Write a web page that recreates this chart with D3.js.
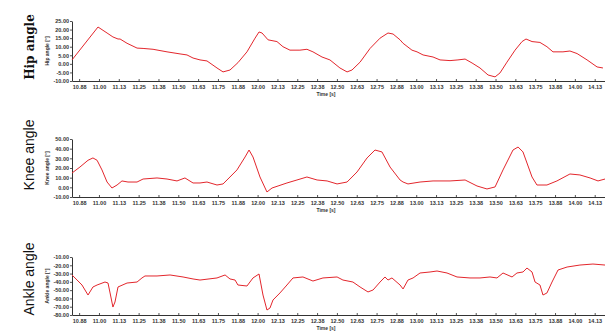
<!DOCTYPE html>
<html>
<head>
<meta charset="utf-8">
<script src="https://cdn.jsdelivr.net/npm/d3@7"></script>
<style>
  body { margin: 0; background: #fff; }
  svg { display: block; }
</style>
</head>
<body>
<div id="chart"></div>
<script>
// Gait angles (time in s, angle in degrees)
const hipTimes = [10.830, 10.994, 11.051, 11.088, 11.120, 11.133, 11.177, 11.240, 11.278, 11.341, 11.429, 11.511, 11.555, 11.593, 11.637,
  11.681, 11.744, 11.782, 11.826, 11.876, 11.933, 11.984, 12.009, 12.028, 12.066, 12.122, 12.160, 12.204, 12.267, 12.311, 12.349, 12.406,
  12.456, 12.519, 12.564, 12.595, 12.646, 12.709, 12.772, 12.822, 12.854, 12.898, 12.917, 12.973, 13.005, 13.043, 13.106, 13.150, 13.213,
  13.263, 13.308, 13.352, 13.402, 13.453, 13.497, 13.528, 13.572, 13.623, 13.667, 13.692, 13.730, 13.780, 13.824, 13.862, 13.925, 13.969,
  14.014, 14.077, 14.140, 14.177];
const hipValues = [2.3, 21.5, 18.0, 15.7, 14.5, 14.5, 12.0, 9.2, 9.0, 8.5, 7.0, 5.8, 5.2, 3.4, 2.3,
  1.7, -2.4, -4.7, -3.6, 0.7, 7.0, 15.0, 18.6, 18.0, 14.0, 13.0, 10.0, 8.0, 8.0, 8.5, 7.0, 4.0,
  2.3, -2.4, -4.7, -3.6, 1.0, 9.0, 15.0, 18.0, 17.4, 14.0, 12.0, 8.0, 7.0, 5.2, 4.0, 2.3, 1.9,
  2.3, 2.8, 0.5, -2.4, -6.5, -7.6, -5.3, 1.0, 8.0, 13.0, 14.5, 13.0, 12.5, 10.0, 7.0, 7.0, 7.5,
  6.0, 2.3, -1.8, -2.4];

const kneeTimes = [10.830, 10.880, 10.931, 10.962, 10.988, 11.019, 11.051, 11.082, 11.114, 11.145, 11.183, 11.240, 11.278, 11.366, 11.429,
  11.492, 11.542, 11.593, 11.637, 11.681, 11.744, 11.782, 11.826, 11.870, 11.921, 11.946, 11.971, 12.015, 12.059, 12.091, 12.129, 12.185,
  12.248, 12.311, 12.375, 12.438, 12.501, 12.564, 12.627, 12.690, 12.740, 12.784, 12.835, 12.898, 12.917, 12.948, 13.024, 13.106, 13.213,
  13.308, 13.383, 13.446, 13.497, 13.547, 13.610, 13.642, 13.673, 13.730, 13.761, 13.824, 13.887, 13.969, 14.032, 14.096, 14.146, 14.190];
const kneeValues = [14.8, 21.0, 28.0, 30.4, 28.0, 18.0, 5.5, -0.7, 2.4, 6.6, 5.5, 5.5, 8.6, 9.7, 8.6,
  6.6, 9.7, 4.5, 4.5, 5.5, 2.4, 3.5, 10.7, 18.0, 31.4, 38.6, 31.4, 10.7, -4.8, -0.7, 1.4, 4.5,
  7.6, 10.7, 7.6, 6.6, 3.5, 5.5, 15.9, 30.4, 38.6, 36.6, 21.0, 7.6, 5.5, 3.5, 5.5, 6.6, 6.6,
  7.6, 1.4, -1.7, 0.4, 18.0, 38.6, 41.7, 36.6, 10.7, 2.4, 2.4, 6.6, 13.8, 12.8, 9.7, 6.6, 8.6];

const ankleTimes = [10.830, 10.862, 10.893, 10.931, 10.962, 10.988, 11.038, 11.057, 11.070, 11.088, 11.101, 11.120, 11.177, 11.240, 11.271,
  11.290, 11.366, 11.448, 11.530, 11.593, 11.637, 11.744, 11.795, 11.826, 11.858, 11.876, 11.933, 11.971, 12.009, 12.034, 12.059, 12.078,
  12.097, 12.141, 12.185, 12.223, 12.286, 12.349, 12.412, 12.501, 12.538, 12.601, 12.646, 12.696, 12.728, 12.772, 12.803, 12.822, 12.847,
  12.898, 12.917, 12.948, 12.980, 13.024, 13.087, 13.131, 13.194, 13.257, 13.339, 13.402, 13.465, 13.509, 13.547, 13.604, 13.635, 13.673,
  13.698, 13.730, 13.749, 13.780, 13.799, 13.824, 13.856, 13.894, 13.951, 14.032, 14.114, 14.190];
const ankleValues = [-31.7, -37.8, -43.8, -55.9, -46.2, -43.8, -40.2, -41.4, -53.4, -70.4, -64.3, -46.2, -41.4, -40.2, -35.3,
  -32.9, -32.9, -31.7, -34.1, -36.5, -37.8, -35.3, -31.7, -36.5, -37.8, -43.8, -45.0, -35.3, -30.5, -55.9, -74.0, -71.6,
  -61.9, -53.4, -43.8, -35.3, -34.1, -39.0, -35.3, -34.1, -37.8, -40.2, -46.2, -52.2, -49.8, -40.2, -34.1, -37.8, -35.3,
  -43.8, -48.6, -37.8, -35.3, -29.3, -28.1, -26.9, -29.3, -34.1, -35.3, -35.3, -34.1, -35.3, -29.3, -34.1, -29.3, -28.1,
  -23.3, -28.1, -40.2, -43.8, -55.9, -53.4, -40.2, -25.7, -22.1, -19.7, -18.5, -19.7];

const xTickValues = [10.875, 11.0, 11.125, 11.25, 11.375, 11.5, 11.625, 11.75, 11.875, 12.0, 12.125, 12.25, 12.375, 12.5,
  12.625, 12.75, 12.875, 13.0, 13.125, 13.25, 13.375, 13.5, 13.625, 13.75, 13.875, 14.0, 14.125];
const hipTicks = [-10, -5, 0, 5, 10, 15, 20, 25];
const kneeTicks = [-10, 0, 10, 20, 30, 40, 50];
const ankleTicks = [-80, -70, -60, -50, -40, -30, -20, -10];
const panelTitles = ["Hip angle", "Knee angle", "Ankle angle"];
const axisTitles = ["Hip angle [°]", "Knee angle [°]", "Ankle angle [°]"];
const xTitle = "Time [s]";

const width = 605, height = 335;
const lineColor = '#e3262c';

const panels = [
  { times: hipTimes, values: hipValues, ticks: hipTicks, top: 21, bottom: 81, titleY: 47, titleFont: 'bold 12px "DejaVu Serif"' },
  { times: kneeTimes, values: kneeValues, ticks: kneeTicks, top: 139, bottom: 197, titleY: 155, titleFont: '14px "Liberation Sans"' },
  { times: ankleTimes, values: ankleValues, ticks: ankleTicks, top: 257, bottom: 315, titleY: 279, titleFont: '14px "Liberation Sans"' }
];

const svg = d3.select('#chart')
  .append('svg')
  .attr('width', width)
  .attr('height', height)
  .style('font-family', '"Liberation Sans", Arial, sans-serif');

const x = d3.scaleLinear()
  .domain([10.83, 14.19])
  .range([72, 605]);

panels.forEach((p, i) => {
  const y = d3.scaleLinear()
    .domain([d3.min(p.ticks), d3.max(p.ticks)])
    .range([p.bottom, p.top]);

  const g = svg.append('g');

  // x axis
  const xAxis = g.append('g')
    .attr('transform', `translate(0,${p.bottom})`)
    .call(d3.axisBottom(x).tickValues(xTickValues).tickFormat(d => d.toFixed(2)).tickSizeInner(-2).tickSizeOuter(0).tickPadding(4));

  // y axis
  const yAxis = g.append('g')
    .attr('transform', 'translate(72,0)')
    .call(d3.axisLeft(y).tickValues(p.ticks).tickFormat(d => d.toFixed(2)).tickSizeInner(2).tickSizeOuter(0).tickPadding(1));

  [xAxis, yAxis].forEach(a => {
    a.select('.domain').attr('stroke', '#333').attr('stroke-width', 1);
    a.selectAll('.tick line').attr('stroke', '#555');
    a.selectAll('.tick text')
      .attr('fill', '#333')
      .style('font-size', '5.5px')
      .style('font-weight', 'bold');
  });

  // small axis titles
  g.append('text')
    .attr('transform', `translate(49,${(p.top + p.bottom) / 2}) rotate(-90)`)
    .attr('text-anchor', 'middle')
    .style('font-size', '5px')
    .style('font-weight', 'bold')
    .attr('fill', '#333')
    .text(axisTitles[i]);

  g.append('text')
    .attr('x', 326)
    .attr('y', p.bottom + 15)
    .attr('text-anchor', 'middle')
    .style('font-size', '5px')
    .style('font-weight', 'bold')
    .attr('fill', '#333')
    .text(xTitle);

  // big panel title on the left
  g.append('text')
    .attr('transform', `translate(34,${p.titleY}) rotate(-90)`)
    .attr('text-anchor', 'middle')
    .style('font', p.titleFont)
    .attr('fill', '#111')
    .text(panelTitles[i]);

  const line = d3.line()
    .x(d => x(d[0]))
    .y(d => y(d[1]));

  g.append('path')
    .datum(d3.zip(p.times, p.values))
    .attr('fill', 'none')
    .attr('stroke', lineColor)
    .attr('stroke-width', 1)
    .attr('stroke-linejoin', 'round')
    .attr('d', line);
});
</script>
</body>
</html>
